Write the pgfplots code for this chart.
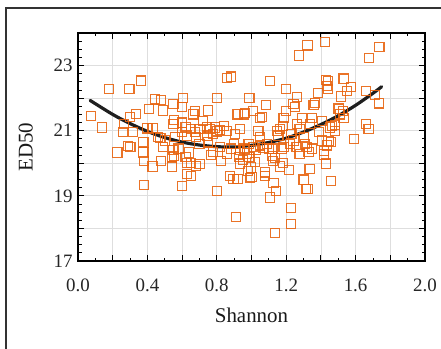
\documentclass[border=0pt]{standalone}
\usepackage{fontspec}
\setmainfont{Liberation Serif}
\usepackage{pgfplots}
\pgfplotsset{compat=1.18}
\definecolor{mkorange}{RGB}{232,100,16}
\definecolor{gridgray}{RGB}{222,222,222}
\begin{document}
\begin{tikzpicture}
\useasboundingbox (-78bp,-88bp) rectangle (363bp,261bp);
\draw[line width=1.1bp, black!80] (-72bp,-90bp) -- (-72bp,253bp) -- (365bp,253bp);
\begin{axis}[
  scale only axis,
  width=347bp, height=228bp,
  xmin=0, xmax=2, ymin=17, ymax=24,
  xtick={0,0.2,...,2.01},
  xticklabels={0.0,,0.4,,0.8,,1.2,,1.6,,2.0},
  ytick={17,18,...,24},
  yticklabels={17,,19,,21,,23,},
  minor x tick num=1,
  minor y tick num=3,
  tick align=inside,
  xtick pos=both, ytick pos=both,
  major tick length=6bp, minor tick length=3.5bp,
  tick style={black, line width=1.1bp},
  minor tick style={black, line width=0.9bp},
  axis line style={black, line width=1.4bp},
  grid=major,
  major grid style={gridgray, line width=0.8bp},
  /pgf/number format/assume math mode=true,
  ticklabel style={font=\fontsize{19}{22}\selectfont, black!85},
  xticklabel style={yshift=-14bp},
  yticklabel style={xshift=-2bp},
  label style={font=\fontsize{21}{25}\selectfont, black!90},
  xlabel={Shannon},
  ylabel={ED50},
  xlabel style={yshift=-10bp},
  ylabel style={yshift=14bp},
  clip=false,
]
\addplot[only marks, mark=square, mark size=4.6bp, mkorange, line width=1.1bp, opacity=0.9] table {
x y
0.073 21.45
0.138 21.10
0.177 22.27
0.227 20.33
0.260 20.95
0.265 21.20
0.287 20.52
0.300 21.43
0.296 22.28
0.315 20.95
0.302 20.50
0.335 21.51
0.362 22.54
0.377 20.64
0.377 20.33
0.380 20.08
0.380 19.33
0.410 21.66
0.400 21.07
0.430 21.08
0.430 19.90
0.444 21.96
0.479 21.94
0.460 20.80
0.475 20.78
0.500 20.70
0.488 20.50
0.488 21.62
0.480 20.08
0.540 20.18
0.540 19.90
0.550 20.40
0.552 20.22
0.550 21.20
0.552 21.33
0.560 20.80
0.550 21.82
0.604 22.00
0.600 21.72
0.600 19.30
0.627 19.67
0.640 20.33
0.628 20.00
0.650 20.00
0.650 19.60
0.665 21.50
0.675 21.60
0.620 21.10
0.650 21.05
0.675 20.95
0.630 20.85
0.700 21.05
0.680 19.92
0.700 19.97
0.680 20.80
0.750 21.62
0.742 21.10
0.762 21.05
0.790 21.10
0.742 20.85
0.780 20.90
0.750 20.64
0.765 20.25
0.780 20.35
0.800 19.15
0.820 20.50
0.825 20.08
0.800 20.98
0.820 21.03
0.840 21.15
0.800 22.00
0.858 22.62
0.883 22.66
0.877 19.62
0.896 19.52
0.920 19.52
0.912 18.35
0.905 20.90
0.935 21.05
0.920 21.50
0.963 21.55
0.955 21.50
0.935 20.40
0.930 20.20
0.935 19.99
0.973 20.40
0.983 20.60
0.988 20.20
0.978 19.77
0.990 19.55
1.000 19.57
0.997 19.87
1.010 21.60
0.988 22.00
1.050 21.40
1.060 21.42
1.040 21.00
1.050 20.55
1.085 21.80
1.078 19.72
1.078 19.62
1.100 20.45
1.108 18.95
1.127 19.40
1.142 19.15
1.137 17.87
1.120 20.22
1.137 20.17
1.123 20.07
1.147 21.00
1.165 21.05
1.155 20.85
1.185 21.40
1.200 21.60
1.185 20.50
1.175 20.45
1.181 20.00
1.165 19.90
1.215 19.80
1.229 18.62
1.229 18.13
1.223 20.60
1.242 20.70
1.242 21.82
1.252 21.72
1.262 22.03
1.262 21.20
1.277 21.05
1.290 21.40
1.277 20.28
1.300 19.50
1.315 19.20
1.323 19.20
1.335 19.83
1.304 20.80
1.310 20.60
1.319 20.50
1.329 20.35
1.348 21.40
1.338 21.20
1.367 21.85
1.358 21.80
1.385 22.15
1.406 21.30
1.406 20.70
1.419 20.37
1.419 20.27
1.435 20.55
1.431 19.99
1.458 19.46
1.460 20.65
1.444 20.68
1.454 21.10
1.463 21.15
1.483 21.17
1.502 21.68
1.512 21.50
1.531 21.40
1.517 22.05
1.531 22.60
1.550 22.23
1.575 22.35
1.429 22.55
1.440 22.52
1.435 22.37
1.440 22.27
1.529 21.60
1.592 20.74
1.660 22.21
1.710 22.10
1.733 21.84
1.660 21.20
1.675 21.05
1.323 23.62
1.425 23.73
1.275 23.31
1.737 23.56
1.679 23.23
1.108 22.52
1.200 22.27
0.960 20.45
0.975 20.30
1.010 20.50
1.025 20.40
1.070 20.48
1.090 20.60
1.120 20.45
1.020 20.05
0.900 20.60
0.880 20.45
0.860 21.00
0.860 20.30
0.700 20.60
0.720 21.30
0.600 20.95
0.580 20.45
0.620 20.20
0.600 21.25
0.950 20.10
1.050 20.80
1.180 21.15
1.230 20.90
1.260 20.50
1.350 20.45
1.390 20.95
1.480 21.00
};
\addplot[smooth, line width=3.2bp, black!88, line cap=round] coordinates {
(0.07,21.93) (0.2,21.50) (0.3,21.22) (0.4,20.98) (0.5,20.79) (0.6,20.65)
(0.7,20.56) (0.8,20.51) (0.9,20.50) (1.0,20.55) (1.1,20.64) (1.2,20.77)
(1.3,20.96) (1.4,21.19) (1.5,21.46) (1.6,21.78) (1.7,22.15) (1.75,22.35)
};
\end{axis}
\end{tikzpicture}
\end{document}
